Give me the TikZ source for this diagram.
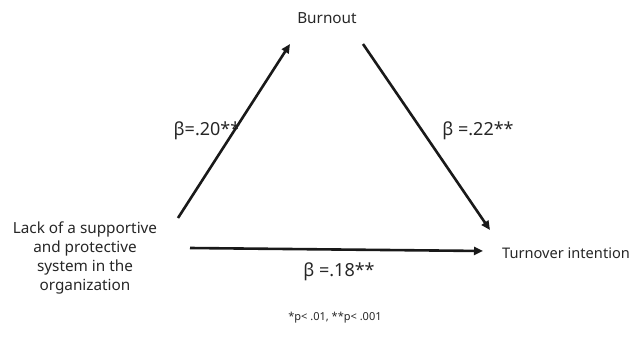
\documentclass[tikz,border=0pt]{standalone}
\usepackage{fontspec}
\setmainfont{Noto Sans}
\usetikzlibrary{arrows.meta}
\definecolor{txt}{RGB}{38,38,38}
\definecolor{ln}{RGB}{25,25,25}
\begin{document}
\begin{tikzpicture}[x=1pt,y=-1pt,
  lbl/.style={inner sep=0pt,text=txt,font=\fontsize{15.3}{19}\selectfont},
  coef/.style={inner sep=0pt,text=txt,font=\fontsize{18}{20}\selectfont},
  arr/.style={draw=ln,line width=2.6pt,-{Triangle[length=9pt,width=8pt]}}]
\useasboundingbox (0,0) rectangle (635,348);
\node[lbl] (burn) at (327,18) {Burnout};
\node[lbl,align=center] (lack) at (85,258) {Lack of a supportive\\and protective\\system in the\\organization};
\node[lbl,anchor=west,font=\fontsize{14.6}{19}\selectfont] (turn) at (502,253) {Turnover intention};
\coordinate (a1s) at (178,218);
\coordinate (a1e) at (290,44);
\coordinate (a2s) at (363,44);
\coordinate (a2e) at (490,230);
\coordinate (a3s) at (190,248);
\coordinate (a3e) at (483,251);
\draw[arr] (a1s) -- (a1e);
\draw[arr] (a2s) -- (a2e);
\draw[arr] (a3s) -- (a3e);
\node[coef] (b1) at (207,131) {β=.20**};
\node[coef] (b2) at (478,131) {β =.22**};
\node[coef] (b3) at (339,272) {β =.18**};
\node[inner sep=0pt,text=txt,font=\fontsize{11}{13}\selectfont] (note) at (335,318) {*p< .01, **p< .001};
\end{tikzpicture}
\end{document}
